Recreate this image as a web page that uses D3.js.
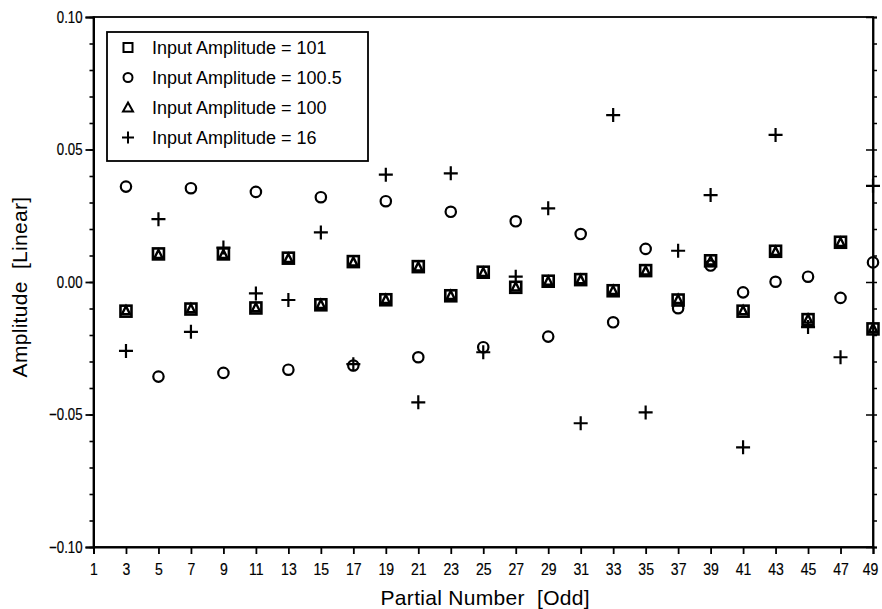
<!DOCTYPE html>
<html>
<head>
<meta charset="utf-8">
<script src="https://cdn.jsdelivr.net/npm/d3@7"></script>
<style>
  html, body { margin: 0; padding: 0; background: #fff; }
  text { font-family: "Liberation Sans", Arial, sans-serif; fill: #000; }
</style>
</head>
<body>
<div id="chart"></div>
<script>
const partials = [3, 5, 7, 9, 11, 13, 15, 17, 19, 21, 23, 25, 27, 29, 31, 33, 35, 37, 39, 41, 43, 45, 47, 49];

const amp101 = [-0.011, 0.0106, -0.0102, 0.0106, -0.0098, 0.009, -0.0086, 0.0077, -0.0067, 0.0058, -0.0052, 0.0037,
  -0.002, 0.0003, 0.0009, -0.0033, 0.0043, -0.0068, 0.008, -0.011, 0.0116, -0.0142, 0.015, -0.0177];
const amp1005 = [0.036, -0.0357, 0.0354, -0.0343, 0.034, -0.0331, 0.032, -0.0315, 0.0305, -0.0284, 0.0265, -0.0246,
  0.0229, -0.0206, 0.0181, -0.0152, 0.0125, -0.0099, 0.0062, -0.0039, 0.0001, 0.002, -0.006, 0.0074];
const amp100 = [-0.0108, 0.0104, -0.0101, 0.0104, -0.0097, 0.0089, -0.0085, 0.0076, -0.0066, 0.0057, -0.0051, 0.0036,
  -0.0019, 0.0003, 0.0009, -0.0032, 0.0042, -0.0066, 0.0079, -0.0108, 0.0115, -0.014, 0.0149, -0.0175];
const amp16 = [-0.026, 0.0237, -0.0188, 0.013, -0.0043, -0.0068, 0.0187, -0.031, 0.0405, -0.0454, 0.041, -0.0265,
  0.002, 0.0278, -0.0533, 0.063, -0.0492, 0.0118, 0.0328, -0.0624, 0.0555, -0.017, -0.0284, 0.0363];

const xTicks = d3.range(1, 50, 2);
const yMajor = [-0.10, -0.05, 0.00, 0.05, 0.10];
const yMinor = d3.range(-10, 11).map(d => d / 100);
const legendLabels = ["Input Amplitude = 101", "Input Amplitude = 100.5", "Input Amplitude = 100", "Input Amplitude = 16"];

const width = 882, height = 609;
const margin = { top: 17, right: 9, bottom: 62, left: 93.5 };

const svg = d3.select("#chart").append("svg")
  .attr("width", width)
  .attr("height", height);

const x = d3.scaleLinear().domain([1, 49]).range([margin.left, width - margin.right]);
const y = d3.scaleLinear().domain([-0.1, 0.1]).range([height - margin.bottom, margin.top]);

// frame
svg.append("rect")
  .attr("x", x(1)).attr("y", y(0.1))
  .attr("width", x(49) - x(1)).attr("height", y(-0.1) - y(0.1))
  .attr("fill", "none").attr("stroke", "#000").attr("stroke-width", 1.8);

// squeeze tick labels to look like the narrow face of the original
function narrow(sel, k) {
  sel.each(function () {
    const w = this.getComputedTextLength();
    d3.select(this).attr("textLength", w * k).attr("lengthAdjust", "spacingAndGlyphs");
  });
}

// bottom axis
const xAxis = svg.append("g")
  .attr("transform", `translate(0,${y(-0.1)})`)
  .call(d3.axisBottom(x).tickValues(xTicks).tickSize(7).tickPadding(9).tickFormat(d3.format("d")));
xAxis.select(".domain").attr("stroke-width", 2);
xAxis.selectAll(".tick line").attr("stroke-width", 1.8);
xAxis.selectAll("text").attr("font-size", 16.5).attr("fill", "#000")
  .attr("stroke", "#000").attr("stroke-width", 0.2)
  .call(narrow, 0.85);
// keep the last label inside the window
xAxis.selectAll("text").filter(d => d === 49).attr("dx", -3);

// left axis: minor then major
const yMinorAxis = svg.append("g")
  .attr("transform", `translate(${x(1)},0)`)
  .call(d3.axisLeft(y).tickValues(yMinor).tickSize(4).tickFormat(""));
yMinorAxis.select(".domain").remove();
yMinorAxis.selectAll(".tick line").attr("stroke-width", 1.6);

const yAxis = svg.append("g")
  .attr("transform", `translate(${x(1)},0)`)
  .call(d3.axisLeft(y).tickValues(yMajor).tickSize(8).tickPadding(3).tickFormat(d3.format(".2f")));
yAxis.select(".domain").attr("stroke-width", 2);
yAxis.selectAll(".tick line").attr("stroke-width", 1.8);
yAxis.selectAll("text").attr("font-size", 16.5).attr("fill", "#000")
  .attr("stroke", "#000").attr("stroke-width", 0.2)
  .call(narrow, 0.8);

// right axis ticks
const yRight = svg.append("g")
  .attr("transform", `translate(${x(49)},0)`)
  .call(d3.axisRight(y).tickValues(yMinor).tickSize(4).tickFormat(""));
yRight.select(".domain").attr("stroke-width", 1.8);
yRight.selectAll(".tick line").attr("stroke-width", 1.5);
const yRightMajor = svg.append("g")
  .attr("transform", `translate(${x(49)},0)`)
  .call(d3.axisLeft(y).tickValues(yMajor).tickSize(7).tickFormat(""));
yRightMajor.select(".domain").remove();
yRightMajor.selectAll(".tick line").attr("stroke-width", 1.5);

// axis titles
svg.append("text")
  .attr("x", (x(1) + x(49)) / 2 + 2).attr("y", 605)
  .attr("text-anchor", "middle").attr("font-size", 21).attr("letter-spacing", 0.3)
  .style("white-space", "pre")
  .text("Partial Number  [Odd]");

svg.append("text")
  .attr("transform", `translate(27,${y(0) + 5}) rotate(-90)`)
  .attr("text-anchor", "middle").attr("font-size", 21).attr("letter-spacing", 0.3)
  .style("white-space", "pre")
  .text("Amplitude  [Linear]");

// marker shapes
const sq = 11, tri = 7, plus = 7;
function drawSquare(g) {
  g.append("rect").attr("x", -sq / 2).attr("y", -sq / 2).attr("width", sq).attr("height", sq)
    .attr("fill", "none").attr("stroke", "#000").attr("stroke-width", 2.6);
}
function drawCircle(g) {
  g.append("circle").attr("r", 5.2).attr("fill", "none").attr("stroke", "#000").attr("stroke-width", 2.2);
}
function drawTriangle(g) {
  g.append("path").attr("d", `M0,${-tri / 2 - 1}L${tri / 2 + 0.5},${tri / 2}L${-tri / 2 - 0.5},${tri / 2}Z`)
    .attr("fill", "none").attr("stroke", "#000").attr("stroke-width", 2.4);
}
function drawPlus(g) {
  g.append("path").attr("d", `M${-plus},0H${plus}M0,${-plus}V${plus}`)
    .attr("stroke", "#000").attr("stroke-width", 2.2);
}

const series = [
  { values: amp101, draw: drawSquare },
  { values: amp1005, draw: drawCircle },
  { values: amp100, draw: drawTriangle },
  { values: amp16, draw: drawPlus }
];

series.forEach(s => {
  svg.append("g").selectAll("g")
    .data(partials.map((p, i) => ({ p, v: s.values[i] })))
    .join("g")
    .attr("transform", d => `translate(${x(d.p)},${y(d.v)})`)
    .each(function () { s.draw(d3.select(this)); });
});

// legend
const legend = svg.append("g");
legend.append("rect")
  .attr("x", 107).attr("y", 32).attr("width", 261).attr("height", 129)
  .attr("fill", "#fff").attr("stroke", "#000").attr("stroke-width", 1.8);

legendLabels.forEach((label, i) => {
  const ly = 47.5 + i * 30;
  const mg = legend.append("g").attr("transform", `translate(128,${ly})`);
  if (i === 0) {
    mg.append("rect").attr("x", -4.5).attr("y", -4.5).attr("width", 9).attr("height", 9)
      .attr("fill", "none").attr("stroke", "#000").attr("stroke-width", 2);
  } else if (i === 1) {
    mg.append("circle").attr("r", 4.5).attr("fill", "none").attr("stroke", "#000").attr("stroke-width", 2);
  } else if (i === 2) {
    mg.append("path").attr("d", "M0,-5L5,4H-5Z").attr("fill", "none").attr("stroke", "#000").attr("stroke-width", 2);
  } else {
    mg.append("path").attr("d", "M-6,0H6M0,-6V6").attr("stroke", "#000").attr("stroke-width", 2);
  }
  legend.append("text")
    .attr("x", 152).attr("y", ly + 6.5)
    .attr("font-size", 18)
    .text(label);
});
</script>
</body>
</html>
